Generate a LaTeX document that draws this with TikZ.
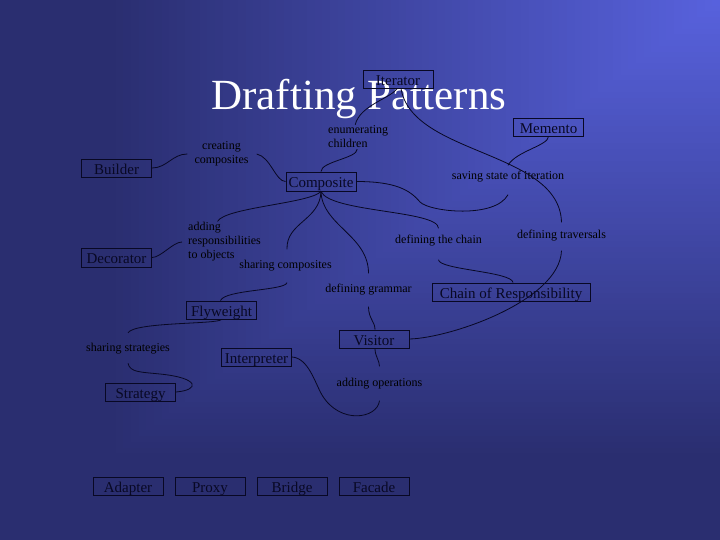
\documentclass[tikz,border=0pt]{standalone}
\usepackage{fontspec}
\setmainfont{Liberation Serif}
\definecolor{bgdark}{RGB}{42,46,112}
\definecolor{bglight}{RGB}{88,98,222}
\definecolor{ink}{RGB}{8,8,36}
\begin{document}
\begin{tikzpicture}[x=1pt,y=-1pt,
  box/.style={draw=ink, line width=0.9pt, minimum width=70pt, minimum height=18pt, inner sep=0pt, text height=14pt, text depth=1.4pt, text=ink, font=\fontsize{15}{16}\selectfont},
  lab/.style={inner sep=1pt, text=black, font=\fontsize{12}{14}\selectfont},
  link/.style={draw=ink, line width=0.8pt}]
\useasboundingbox (0,0) rectangle (720,540);
% background: gradient from the top right corner
\fill[bgdark] (0,0) rectangle (720,540);
\foreach \i in {80,79,...,1}{
  \pgfmathsetmacro{\p}{100-1.25*\i}
  \pgfmathsetmacro{\xl}{720-7.65*\i}
  \pgfmathsetmacro{\yb}{5.7375*\i}
  \fill[bglight!\p!bgdark] (\xl,0) rectangle (720,\yb);
}
% title
\node[font=\fontsize{43}{43}\selectfont, text=white, anchor=base, inner sep=0pt] (title) at (359,110) {Drafting Patterns};
% pattern boxes
\node[box] (iter) at (398,79) {Iterator};
\node[box] (mem) at (548.5,127) {Memento};
\node[box] (bld) at (116.5,168) {Builder};
\node[box, minimum height=19pt] (comp) at (321,181.5) {Composite};
\node[box, minimum height=19pt] (dec) at (116.5,257.5) {Decorator};
\node[box, minimum width=158pt] (chain) at (511,292) {Chain of Responsibility};
\node[box] (fly) at (221.5,310) {Flyweight};
\node[box] (vis) at (374,339) {Visitor};
\node[box] (int) at (256.5,357) {Interpreter};
\node[box] (strat) at (140.5,392) {Strategy};
\node[box] (adapt) at (128,486) {Adapter};
\node[box] (proxy) at (210,486) {Proxy};
\node[box] (bridge) at (292,486) {Bridge};
\node[box] (facade) at (374,486) {Facade};
% relation labels
\node[lab, align=left, anchor=west] (ec) at (327,137) {enumerating\\children};
\node[lab, align=center] (cc) at (221.5,154) {creating\\composites};
\node[lab] (ss) at (508,177) {saving state of iteration};
\node[lab, align=left, anchor=west] (ar) at (187,242) {adding\\responsibilities\\to objects};
\node[lab] (sc) at (285.5,266) {sharing composites};
\node[lab] (dc) at (438.5,241) {defining the chain};
\node[lab] (dtr) at (561.5,236) {defining traversals};
\node[lab] (dg) at (368.5,290) {defining grammar};
\node[lab] (ss2) at (128,349) {sharing strategies};
\node[lab] (ao) at (379.5,384) {adding operations};
% connectors
\draw[link] (bld.east) .. controls +(15,0) and +(-15,0) .. ([xshift=-6pt]cc.west);
\draw[link] ([xshift=7pt]cc.east) .. controls +(14,3) and +(-10,0) .. (comp.west);
\draw[link] ([xshift=-1pt]iter.south) .. controls +(-6,10) and +(5,-20) .. ([xshift=-3pt]ec.north);
\draw[link] ([xshift=-1pt]ec.south) .. controls +(0,9) and +(0,-10) .. (comp.north);
\draw[link] ([xshift=3pt]iter.south) .. controls +(11,67) and +(-2,-72) .. ([yshift=7pt]dtr.north);
\draw[link] (mem.south) .. controls +(0,9) and +(8,-14) .. ([yshift=5pt]ss.north);
\draw[link] (comp.east) .. controls +(39,0) and +(-10,-12) .. (420,202) .. controls +(10,10) and +(-13,24) .. ([yshift=-11pt]ss.south);
\draw[link] (comp.south) .. controls +(-11,12) and +(8,-14) .. ([xshift=-7pt]ar.north);
\draw[link] (comp.south) .. controls +(-1,29) and +(-1,-27) .. ([xshift=1.5pt,yshift=10pt]sc.north);
\draw[link] (comp.south) .. controls +(1,34) and +(0,-38) .. ([yshift=10pt]dg.north);
\draw[link] (comp.south) .. controls +(9,21) and +(0,-18) .. ([yshift=6pt]dc.north);
\draw[link] ([yshift=-12pt]dc.south) .. controls +(0,10) and +(-1,-11) .. ([xshift=2pt]chain.north);
\draw[link] (dec.east) .. controls +(9,0) and +(-9,0) .. ([xshift=-5pt]ar.west);
\draw[link] ([xshift=1.5pt,yshift=-10pt]sc.south) .. controls +(-2,8) and +(4.5,-11) .. ([xshift=-1pt]fly.north);
\draw[link] (fly.south) .. controls +(-3.5,5) and +(7,-11) .. ([yshift=9.6pt]ss2.north);
\draw[link] ([yshift=-7.6pt]ss2.south) .. controls +(2,9) and +(-20,-2) .. (160,374) .. controls +(40,4) and +(24,-2) .. (strat.east);
\draw[link] ([yshift=-10pt]dg.south) .. controls +(0,12) and +(0,-8) .. ([xshift=1pt]vis.north);
\draw[link] ([xshift=1pt]vis.south) .. controls +(0,8) and +(0,-6) .. ([yshift=11pt]ao.north);
\draw[link] ([yshift=-10pt]ao.south) .. controls +(-2,18) and +(18,30) .. (322,395) .. controls +(-7,-12) and +(16.5,1) .. (int.east);
\draw[link] (vis.east) .. controls +(41,-1) and +(-2,50) .. ([yshift=-8pt]dtr.south);
\end{tikzpicture}
\end{document}
